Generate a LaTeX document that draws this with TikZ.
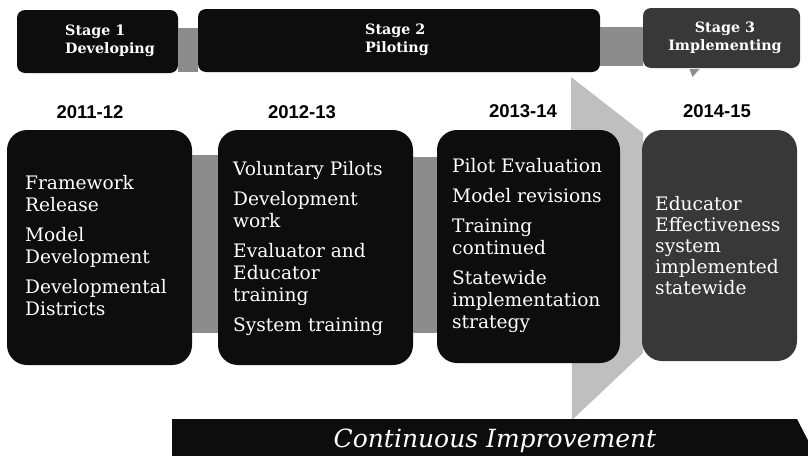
\documentclass[tikz,border=0pt]{standalone}
\usepackage{fontspec}
\setmainfont{DejaVu Serif}
\newfontfamily\yearfont{Liberation Sans}
\usetikzlibrary{
  calc,
  positioning,
}
\tikzset{
  stage/.style={fill=black!95, rounded corners=8pt, inner sep=0pt, outer sep=0pt},
  card/.style={fill=black!95, rounded corners=20pt, inner sep=0pt, outer sep=0pt},
  link/.style={fill=black!45},
  band/.style={fill=black!25},
  stagetext/.style={text=white, inner sep=0pt, font=\bfseries\fontsize{14.3}{18}\selectfont},
  cardtext/.style={text=white, inner sep=0pt, align=left, font=\fontsize{18.6}{22}\selectfont},
  year/.style={inner sep=0pt, font=\yearfont\bfseries\fontsize{18.5}{20}\selectfont},
}
\newcommand{\itemgap}{8pt}

\begin{document}
\begin{tikzpicture}[x=1pt, y=-1pt]
      \useasboundingbox (0, 0) rectangle (808, 455);
      \clip (0, 0) rectangle (808, 455);

      \fill [band] (571, 77) -- (643, 133) -- (643, 353) -- (572, 420) -- cycle;

      \node [stage, minimum width=161pt, minimum height=63pt, anchor=north west] (s1) at (17, 10) {};
      \node [stage, minimum width=402pt, minimum height=63pt, anchor=north west] (s2) at (198, 9) {};
      \node [stage, fill=black!78, minimum width=157pt, minimum height=60pt, anchor=north west] (s3) at (643, 8) {};
      \fill [link] ($(s1.north east) + (0, 18)$) rectangle (s2.south west);
      \fill [link] ($(s2.north east) + (0, 18)$) rectangle ($(s3.south west) + (0, -2)$);
      \fill [link] ($(s3.south) + (-32, 1)$) -- ++(10, 0) -- ++(-7, 8) -- cycle;

      \node [stagetext, align=left, anchor=west] (s1text) at (65, 41) {Stage 1\\Developing};
      \node [stagetext, align=left, anchor=west] (s2text) at (365, 40) {Stage 2\\Piloting};
      \node [stagetext, align=center] (s3text) at (725, 38) {Stage 3\\Implementing};

      \node [year] (y1) at (90, 112) {2011-12};
      \node [year] (y2) at (302, 112) {2012-13};
      \node [year] (y3) at (523, 111) {2013-14};
      \node [year] (y4) at (717, 111) {2014-15};

      \node [card, minimum width=185pt, minimum height=235pt, anchor=north west] (b1) at (7, 130) {};
      \node [card, minimum width=195pt, minimum height=235pt, anchor=north west] (b2) at (218, 130) {};
      \node [card, minimum width=183pt, minimum height=233pt, anchor=north west] (b3) at (437, 130) {};
      \node [card, fill=black!78, minimum width=155pt, minimum height=231pt, anchor=north west] (b4) at (642, 130) {};
      \fill [link] ($(b1.north east) + (0, 25)$) rectangle ($(b2.south west) + (0, -32)$);
      \fill [link] ($(b2.north east) + (0, 27)$) rectangle ($(b3.south west) + (0, -30)$);

      \node [cardtext, anchor=base west] (b1text) at (25, 315)
        {Framework\\Release\\[\itemgap]Model\\Development\\[\itemgap]Developmental\\Districts};
      \node [cardtext, anchor=base west] (b2text) at (233, 331)
        {Voluntary Pilots\\[\itemgap]Development\\work\\[\itemgap]Evaluator and\\Educator\\training\\[\itemgap]System training};
      \node [cardtext, anchor=base west] (b3text) at (452, 328)
        {Pilot Evaluation\\[\itemgap]Model revisions\\[\itemgap]Training\\continued\\[\itemgap]Statewide\\implementation\\strategy};
      \node [cardtext, anchor=base west, font=\fontsize{18.6}{21}\selectfont] (b4text) at (655, 294)
        {Educator\\Effectiveness\\system\\implemented\\statewide};

      \fill [fill=black!95] (172, 419) -- (797, 419) -- (815, 454) -- (797, 489) -- (172, 489) -- cycle;
      \node [text=white, inner sep=0pt, anchor=base, font=\itshape\fontsize{25}{28}\selectfont] (ci) at (495, 447) {Continuous Improvement};
    \end{tikzpicture}
\end{document}
